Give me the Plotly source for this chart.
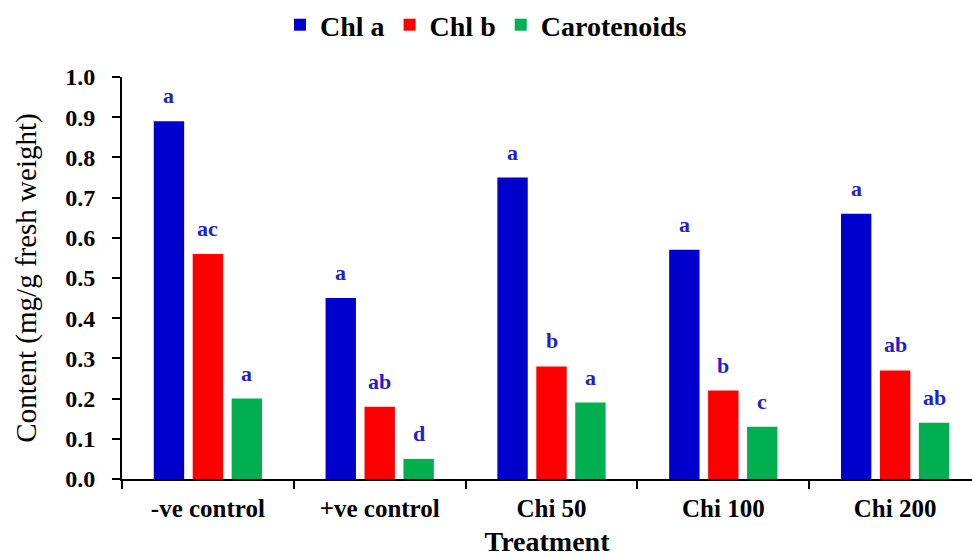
import plotly.graph_objects as go

categories = ["-ve control", "+ve control", "Chi 50", "Chi 100", "Chi 200"]
chl_a = [0.89, 0.45, 0.75, 0.57, 0.66]
chl_b = [0.56, 0.18, 0.28, 0.22, 0.27]
carotenoids = [0.20, 0.05, 0.19, 0.13, 0.14]
letters_chl_a = ["a", "a", "a", "a", "a"]
letters_chl_b = ["ac", "ab", "b", "b", "ab"]
letters_car = ["a", "d", "a", "c", "ab"]
y_tick_vals = [0.0, 0.1, 0.2, 0.3, 0.4, 0.5, 0.6, 0.7, 0.8, 0.9, 1.0]

series = [
    ("Chl a", chl_a, letters_chl_a, "#0000CC"),
    ("Chl b", chl_b, letters_chl_b, "#FF0000"),
    ("Carotenoids", carotenoids, letters_car, "#00B050"),
]

W, H = 972, 557
ML, MR, MT, MB = 122, 0, 77, 78
cat_px = 171.8
plot_w = W - ML - MR
x_max = -0.5 + plot_w / cat_px
bargap = 0.32
bargroupgap = 0.22
slot_px = (1 - bargap) * cat_px / 3

serif = "Liberation Serif"
label_color = "#1F1FCC"

fig = go.Figure()
annotations = []
for i, (name, vals, letters, color) in enumerate(series):
    fig.add_trace(go.Bar(name=name, x=categories, y=vals,
                         marker=dict(color=color, line=dict(width=0))))
    for c, v, t in zip(categories, vals, letters):
        annotations.append(dict(
            x=c, y=v, xref="x", yref="y", text=t, showarrow=False,
            xanchor="center", yanchor="bottom",
            xshift=(i - 1) * slot_px, yshift=11,
            font=dict(family=serif, size=22, color=label_color, weight="bold"),
        ))

fig.update_layout(
    width=W, height=H,
    margin=dict(l=ML, r=MR, t=MT, b=MB, autoexpand=False),
    paper_bgcolor="white", plot_bgcolor="white",
    barmode="group", bargap=bargap, bargroupgap=bargroupgap,
    font=dict(family=serif, color="black"),
    showlegend=True,
    legend=dict(orientation="h", x=0.5, xanchor="center", xref="container",
                y=1.0, yanchor="top", yref="container",
                font=dict(family=serif, size=28, color="black", weight="bold"),
                bgcolor="rgba(0,0,0,0)", traceorder="normal"),
    annotations=annotations,
)

fig.update_xaxes(
    range=[-0.5, x_max], showline=True, linecolor="black", linewidth=2,
    ticks="outside", tickson="boundaries", ticklen=8, tickwidth=2, tickcolor="black",
    ticklabelstandoff=6, automargin=False,
    tickfont=dict(family=serif, size=25, color="black", weight="bold"),
    showgrid=False, zeroline=False,
    title=dict(text="Treatment", standoff=20,
               font=dict(family=serif, size=28, color="black", weight="bold")),
)
fig.update_yaxes(
    range=[0, 1.0], tickvals=y_tick_vals, tickformat=".1f",
    showline=True, linecolor="black", linewidth=2,
    ticks="outside", ticklen=8, tickwidth=2, tickcolor="black",
    ticklabelstandoff=12, automargin=False,
    tickfont=dict(family=serif, size=24, color="black", weight="bold"),
    showgrid=False, zeroline=False,
    title=dict(text="Content (mg/g fresh weight)", standoff=20,
               font=dict(family=serif, size=29, color="black")),
)

fig.write_html("out.html")
